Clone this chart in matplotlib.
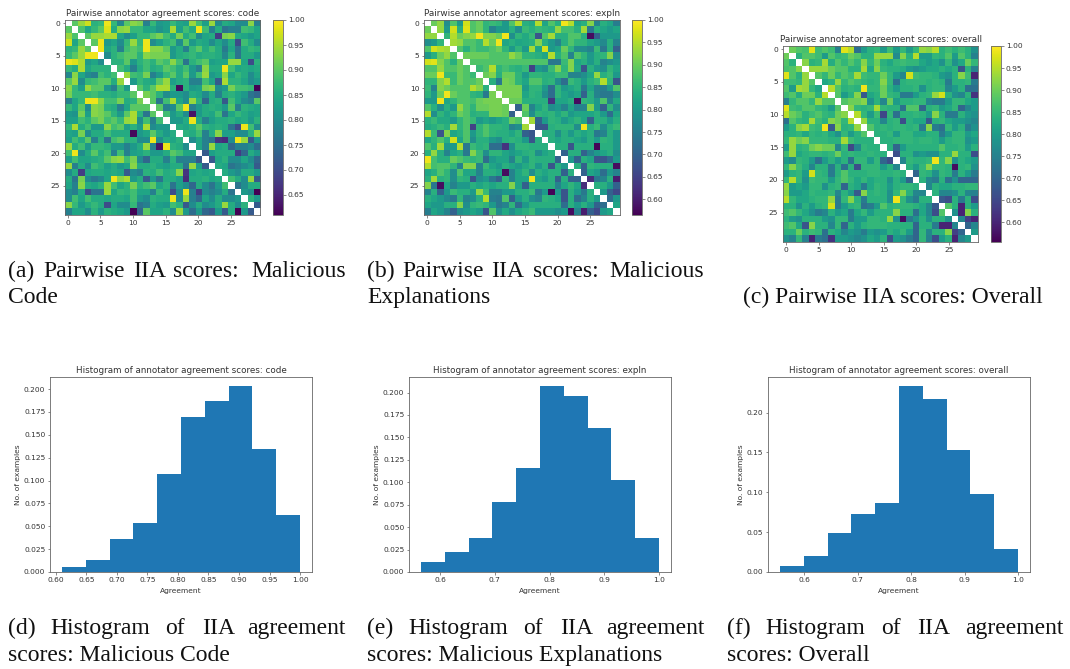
import numpy as np
import matplotlib
matplotlib.use('Agg')
import matplotlib.pyplot as plt

# upper triangles of the agreement matrices, in hundredths (row r holds columns r+1..29)
code_upper = [
    [90,94,97,86,87,99,87,79,90,93,92,78,87,82,83,87,84,83,94,88,83,94,80,85,84,80,80,93,78],
    [89,84,87,90,98,85,93,94,87,87,84,84,81,83,95,83,88,85,99,88,78,85,76,78,78,88,87,84],
    [90,94,94,95,95,84,80,83,87,87,90,92,88,85,92,85,88,80,84,85,68,92,93,85,84,82,84],
    [90,99,82,84,80,87,94,87,99,80,83,86,88,80,90,82,85,84,80,84,80,85,70,88,85,80],
    [99,84,86,78,88,90,88,99,93,93,90,82,85,78,87,90,85,88,85,77,84,76,85,87,86],
    [80,86,88,90,90,86,93,92,92,92,82,85,86,87,85,86,86,85,79,86,76,85,85,82],
    [86,86,90,82,86,88,86,90,88,93,88,76,86,88,90,83,84,84,94,94,84,70,86],
    [88,85,78,85,88,85,86,90,88,85,88,82,78,93,85,85,99,88,84,85,84,85],
    [94,88,87,92,78,82,87,90,85,90,82,88,94,82,84,93,84,87,85,80,84],
    [82,87,85,84,90,94,83,85,86,78,78,88,84,72,95,86,86,84,80,82],
    [90,86,90,95,95,86,62,86,82,83,92,93,80,82,92,88,88,87,61],
    [92,90,86,80,82,82,80,85,84,80,85,78,85,86,84,82,76,74],
    [90,76,88,95,84,80,94,86,74,85,86,72,88,84,80,78,90],
    [90,78,80,90,99,78,82,85,86,85,82,90,78,86,85,84],
    [88,82,85,80,63,82,85,84,88,76,84,87,85,83,84],
    [82,82,85,99,85,78,83,85,85,86,84,85,82,86],
    [85,84,86,90,86,85,86,85,76,70,99,88,80],
    [86,85,88,78,85,93,83,83,80,80,86,94],
    [80,84,78,76,67,66,80,99,94,72,82],
    [84,78,94,84,85,74,78,78,80,75],
    [72,83,85,85,85,68,74,85,82],
    [72,84,86,80,80,84,80,74],
    [85,84,76,78,80,82,72],
    [85,82,80,85,85,82],
    [88,85,80,94,72],
    [76,80,85,85],
    [82,80,61],
    [86,82],
    [72],
]
expln_upper = [
    [90,93,78,88,80,97,88,90,85,86,85,80,88,95,84,83,95,82,88,84,99,95,82,84,92,76,84,82,75],
    [93,80,97,84,98,88,90,85,76,80,80,84,78,86,84,86,85,84,93,87,87,84,94,74,84,82,80,82],
    [85,95,90,92,93,99,92,92,90,99,78,85,83,86,68,88,94,84,84,88,88,84,58,70,80,80,80],
    [94,93,88,88,86,95,90,99,82,84,82,83,84,92,84,80,76,84,88,85,85,82,80,77,84,76],
    [88,84,88,86,86,88,90,85,80,85,80,94,82,97,80,82,90,85,78,78,76,86,74,84,70],
    [90,90,90,90,88,88,88,93,90,85,85,84,82,95,84,88,76,88,85,80,84,85,92,78],
    [88,88,88,88,88,88,88,88,88,88,88,88,74,74,86,92,82,84,80,84,76,78,80],
    [86,88,95,85,87,85,84,86,65,80,78,86,92,85,92,83,68,84,80,78,85,82],
    [90,92,84,90,90,85,80,85,85,84,84,86,86,76,76,78,82,93,84,86,80],
    [84,74,91,90,85,82,88,88,84,85,78,72,86,84,80,84,86,95,85,68],
    [91,91,91,91,80,85,85,80,72,85,80,82,84,74,82,76,75,80,88],
    [91,91,91,82,85,84,78,72,85,82,80,82,70,84,76,74,74,78],
    [90,90,84,84,84,84,63,82,82,84,58,85,84,80,88,76,83],
    [70,90,76,82,85,78,80,76,82,76,76,92,80,70,85,78],
    [88,78,85,84,85,82,85,80,82,82,82,84,80,72,82],
    [94,70,80,85,84,80,83,85,82,70,84,84,80,84],
    [68,68,84,85,85,85,78,99,84,86,78,84,86],
    [84,84,78,84,80,84,82,84,74,76,84,80],
    [84,82,84,84,82,80,84,80,85,84,80],
    [84,84,68,84,84,84,57,84,84,80],
    [70,84,84,70,76,80,82,84,78],
    [80,70,84,82,68,68,72,80],
    [84,70,85,84,84,84,58],
    [70,82,80,72,80,76],
    [62,74,76,84,60],
    [84,84,80,70],
    [80,70,66],
    [72,80],
    [82],
]
overall_upper = [
    [90,88,87,98,86,88,86,75,98,95,72,80,84,85,80,86,80,85,80,85,93,92,95,84,86,84,86,84,78],
    [84,88,88,86,80,88,85,86,90,88,84,84,93,93,93,77,92,84,95,80,80,85,84,88,80,88,84,75],
    [92,84,85,94,83,88,85,88,85,92,85,90,84,82,85,86,85,85,82,80,82,78,85,78,82,90,85],
    [93,93,93,90,88,88,84,84,94,82,92,85,84,84,83,80,78,80,82,82,84,82,84,67,84,75],
    [88,85,90,85,88,86,94,86,85,85,90,85,80,76,97,86,85,85,84,80,78,84,92,86,60],
    [82,84,93,85,88,86,85,84,85,92,85,72,84,85,85,85,84,85,84,74,84,84,85,74],
    [95,88,84,85,84,99,85,85,90,84,80,84,84,85,78,84,85,85,76,80,84,72,72],
    [88,80,84,92,68,82,84,90,85,84,74,74,80,84,85,93,97,84,78,76,84,62],
    [88,90,90,92,78,84,76,90,80,84,84,85,85,76,74,74,80,85,85,82,80],
    [92,85,84,85,94,85,84,84,72,88,88,70,84,85,80,82,85,70,76,80],
    [95,85,80,86,65,85,72,84,84,85,84,80,92,84,74,74,84,80,78],
    [93,84,84,76,84,85,66,84,82,82,68,84,85,82,80,80,78,76],
    [88,84,85,84,85,85,84,85,74,92,74,72,85,80,84,74,78],
    [84,84,85,80,85,85,82,82,84,84,74,80,85,85,80,82],
    [84,84,85,85,85,84,85,85,84,80,84,85,85,78,80],
    [84,70,80,84,84,84,84,84,88,84,84,85,80,84],
    [66,84,84,78,80,78,78,84,84,93,84,84,66],
    [76,85,84,84,85,99,85,92,78,84,82,80],
    [84,80,85,92,85,85,84,57,84,85,78],
    [70,85,84,78,85,84,74,84,80,74],
    [84,76,74,84,72,78,70,70,70],
    [76,84,82,82,84,84,85,85],
    [84,76,76,78,84,76,75],
    [68,66,84,74,84,66],
    [88,84,60,84,80],
    [78,60,92,84],
    [76,64,60],
    [70,76],
    [80],
]

code_vmin, expln_vmin, overall_vmin = 0.61, 0.565, 0.555
heat_ticks = [0, 5, 10, 15, 20, 25]
code_cbar_ticks = [0.65, 0.70, 0.75, 0.80, 0.85, 0.90, 0.95, 1.00]
other_cbar_ticks = [0.60, 0.65, 0.70, 0.75, 0.80, 0.85, 0.90, 0.95, 1.00]

# histogram bar heights
code_hist = [0.005, 0.0135, 0.036, 0.054, 0.107, 0.169, 0.187, 0.203, 0.134, 0.062]
expln_hist = [0.011, 0.0225, 0.038, 0.078, 0.116, 0.207, 0.196, 0.160, 0.103, 0.038]
overall_hist = [0.007, 0.0205, 0.049, 0.073, 0.087, 0.233, 0.217, 0.153, 0.0975, 0.029]

W, H = 1070, 669
TXT = '#333333'
SP = '#666666'
fig = plt.figure(figsize=(W / 100, H / 100), dpi=100)


def px_axes(x0, y0, x1, y1):
    return fig.add_axes([x0 / W, 1 - y1 / H, (x1 - x0) / W, (y1 - y0) / H])


def style(ax):
    for s in ax.spines.values():
        s.set_linewidth(0.6)
        s.set_color(SP)
    ax.tick_params(labelsize=5.4, length=1.8, width=0.4, pad=1.6, color=TXT, labelcolor=TXT)


def full_matrix(upper):
    m = np.full((30, 30), np.nan)
    for r, vals in enumerate(upper):
        assert len(vals) == 29 - r, r
        for k, v in enumerate(vals):
            m[r, r + 1 + k] = v / 100
            m[r + 1 + k, r] = v / 100
    return m


def heat(upper, vmin, ticks, box, cbox, name):
    ax = px_axes(*box)
    im = ax.imshow(full_matrix(upper), cmap='viridis', vmin=vmin, vmax=1.0,
                   interpolation='nearest', aspect='auto')
    ax.set_xticks(heat_ticks)
    ax.set_yticks(heat_ticks)
    ax.set_title('Pairwise annotator agreement scores: ' + name, fontsize=6.4, color=TXT, pad=3)
    style(ax)
    cax = px_axes(*cbox)
    cb = fig.colorbar(im, cax=cax)
    cb.set_ticks(ticks)
    cb.ax.set_yticklabels(['%.2f' % t for t in ticks])
    style(cax)
    cb.outline.set_linewidth(0.6)
    cb.outline.set_edgecolor(SP)


def hist(values, low, box, name, yticks, yfmt, xticks, xfmt):
    ax = px_axes(*box)
    edges = np.linspace(low, 1.0, len(values) + 1)
    ax.bar(edges[:-1], values, width=np.diff(edges), align='edge', color='#1f77b4')
    ax.set_xticks(xticks)
    ax.set_xticklabels([xfmt % t for t in xticks])
    ax.set_yticks(yticks)
    ax.set_yticklabels([yfmt % t for t in yticks])
    ax.set_title('Histogram of annotator agreement scores: ' + name, fontsize=6.3, color=TXT, pad=3)
    ax.set_xlabel('Agreement', fontsize=5.4, color=TXT, labelpad=3.5)
    ax.set_ylabel('No. of examples', fontsize=5.4, color=TXT, labelpad=2)
    style(ax)


heat(code_upper, code_vmin, code_cbar_ticks, (64.5, 20, 260, 215), (273, 20, 283, 215), 'code')
heat(expln_upper, expln_vmin, other_cbar_ticks, (424, 20, 619.5, 215), (632, 20, 642, 215), 'expln')
heat(overall_upper, overall_vmin, other_cbar_ticks, (783, 46, 978, 242), (991, 46, 1001, 242), 'overall')

hist(code_hist, 0.61, (50, 377, 312, 572), 'code',
     [0, 0.025, 0.05, 0.075, 0.1, 0.125, 0.15, 0.175, 0.2], '%.3f',
     [0.6, 0.65, 0.7, 0.75, 0.8, 0.85, 0.9, 0.95, 1.0], '%.2f')
hist(expln_hist, 0.565, (409, 377, 671, 572), 'expln',
     [0, 0.025, 0.05, 0.075, 0.1, 0.125, 0.15, 0.175, 0.2], '%.3f',
     [0.6, 0.7, 0.8, 0.9, 1.0], '%.1f')
hist(overall_hist, 0.555, (768, 377, 1030, 572), 'overall',
     [0, 0.05, 0.1, 0.15, 0.2], '%.2f',
     [0.6, 0.7, 0.8, 0.9, 1.0], '%.1f')

# captions, justified lines are placed word by word
captions = [
    ('(a)', 8, 277), ('Pairwise', 43, 277), ('IIA', 133, 277), ('scores:', 173, 277), ('Malicious', 251, 277),
    ('Code', 8, 303),
    ('(b)', 367, 277), ('Pairwise', 402, 277), ('IIA', 491, 277), ('scores:', 533, 277), ('Malicious', 609, 277),
    ('Explanations', 367, 303),
    ('(c) Pairwise IIA scores: Overall', 743, 303),
    ('(d)', 8, 634), ('Histogram', 50, 634), ('of', 165, 634), ('IIA', 202, 634), ('agreement', 247, 634),
    ('scores: Malicious Code', 8, 661),
    ('(e)', 367, 634), ('Histogram', 408, 634), ('of', 523, 634), ('IIA', 560, 634), ('agreement', 606, 634),
    ('scores: Malicious Explanations', 367, 661),
    ('(f)', 727, 634), ('Histogram', 765, 634), ('of', 881, 634), ('IIA', 917, 634), ('agreement', 965, 634),
    ('scores: Overall', 727, 661),
]
for word, x, y in captions:
    fig.text(x / W, 1 - y / H, word, family='Liberation Serif', fontsize=17, color='#111111',
             ha='left', va='baseline')

fig.savefig('out.png', dpi=100)
print("done")
